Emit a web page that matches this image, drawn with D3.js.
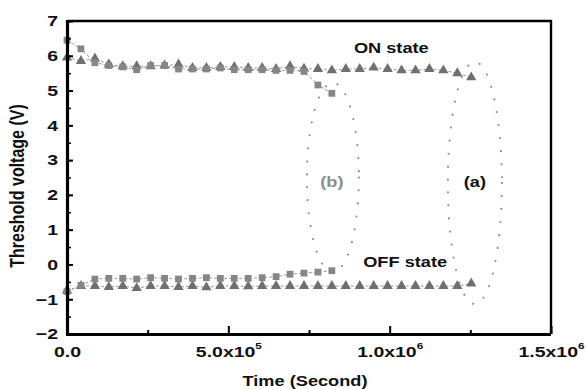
<!DOCTYPE html>
<html>
<head>
<meta charset="utf-8">
<script src="https://cdn.jsdelivr.net/npm/d3@7"></script>
<style>
  body { margin: 0; background: #fff; }
  svg { display: block; font-family: "Liberation Sans", Arial, sans-serif; }
</style>
</head>
<body>
<div id="chart"></div>
<script>
// time points, seconds (one reading every 12 h)
const timesA = [0, 43200, 86400, 129600, 172800, 216000, 259200, 302400, 345600, 388800,
  432000, 475200, 518400, 561600, 604800, 648000, 691200, 734400, 777600, 820800,
  864000, 907200, 950400, 993600, 1036800, 1080000, 1123200, 1166400, 1209600, 1252800]
const timesB = timesA.slice(0, 20)

// (a) triangles
const onA = [5.95, 5.85, 5.92, 5.75, 5.7, 5.7, 5.7, 5.72, 5.75, 5.65,
  5.65, 5.68, 5.68, 5.65, 5.65, 5.62, 5.7, 5.63, 5.62, 5.58,
  5.62, 5.62, 5.66, 5.62, 5.58, 5.58, 5.62, 5.58, 5.5, 5.38]
const offA = [-0.75, -0.62, -0.62, -0.65, -0.62, -0.68, -0.62, -0.62, -0.65, -0.62,
  -0.66, -0.62, -0.62, -0.63, -0.62, -0.62, -0.62, -0.62, -0.62, -0.62,
  -0.62, -0.62, -0.62, -0.62, -0.62, -0.62, -0.62, -0.62, -0.62, -0.55]

// (b) squares
const onB = [6.45, 6.2, 5.8, 5.72, 5.68, 5.6, 5.72, 5.72, 5.62, 5.62,
  5.62, 5.65, 5.6, 5.6, 5.6, 5.58, 5.58, 5.55, 5.16, 4.92]
const offB = [-0.78, -0.6, -0.42, -0.4, -0.4, -0.42, -0.38, -0.4, -0.42, -0.4,
  -0.38, -0.4, -0.4, -0.4, -0.38, -0.35, -0.28, -0.25, -0.22, -0.18]

// dotted loops: center (s, V), half width (s), half height (V), label position
const loops = [
  { name: "(b)", cx: 824000, cy: 2.5, rx: 80600, ry: 2.72, lx: 821000, ly: 2.23, color: "#8e8e8e" },
  { name: "(a)", cx: 1264000, cy: 2.34, rx: 83700, ry: 3.48, lx: 1264000, ly: 2.23, color: "#111" }
]

const yTicks = [-2, -1, 0, 1, 2, 3, 4, 5, 6, 7]
const xTicks = [0, 5e5, 1e6, 1.5e6]
const xTickLabels = [["0.0", ""], ["5.0x10", "5"], ["1.0x10", "6"], ["1.5x10", "6"]]

const width = 587
const height = 389
const marginTop = 21
const marginRight = 36
const marginBottom = 55
const marginLeft = 67
const stretch = 1.3     // the printed figure is wider than tall, text looks stretched

const svg = d3.select("#chart").append("svg")
  .attr("width", width)
  .attr("height", height)
  .attr("viewBox", [0, 0, width, height])

const x = d3.scaleLinear([0, 1.5e6], [marginLeft, width - marginRight])
const y = d3.scaleLinear([-2, 7], [height - marginBottom, marginTop])

// dotted loops
svg.append("g")
  .selectAll("ellipse")
  .data(loops)
  .join("ellipse")
  .attr("cx", d => x(d.cx))
  .attr("cy", d => y(d.cy))
  .attr("rx", d => x(d.cx + d.rx) - x(d.cx))
  .attr("ry", d => y(d.cy - d.ry) - y(d.cy))
  .attr("fill", "none")
  .attr("stroke", "#8f8f8f")
  .attr("stroke-width", 2.2)
  .attr("stroke-linecap", "round")
  .attr("stroke-dasharray", "0 13")

// series
const series = [
  { t: timesA, v: onA, shape: d3.symbolTriangle, fill: "#6f6f6f" },
  { t: timesA, v: offA, shape: d3.symbolTriangle, fill: "#6f6f6f" },
  { t: timesB, v: onB, shape: d3.symbolSquare, fill: "#868686" },
  { t: timesB, v: offB, shape: d3.symbolSquare, fill: "#868686" }
]

const line = d3.line().x(d => x(d[0])).y(d => y(d[1]))

series.forEach(s => {
  const pts = s.t.map((t, i) => [t, s.v[i]])
  svg.append("path")
    .attr("d", line(pts))
    .attr("fill", "none")
    .attr("stroke", "#9a9a9a")
    .attr("stroke-width", 1)
    .attr("stroke-dasharray", "3 2")
  svg.append("g")
    .selectAll("path")
    .data(pts)
    .join("path")
    .attr("transform", d => `translate(${x(d[0])},${y(d[1])})`)
    .attr("d", d3.symbol().type(s.shape).size(46)())
    .attr("fill", s.fill)
})

// frame
const x0 = x(0), x1 = x(1.5e6), y0 = y(-2), y1 = y(7)
svg.append("path")
  .attr("d", `M${x0},${y1}H${x1}V${y0}`)
  .attr("fill", "none")
  .attr("stroke", "#000")
  .attr("stroke-width", 2.4)

// y axis
svg.append("g")
  .attr("transform", `translate(${marginLeft},0)`)
  .call(d3.axisLeft(y).tickValues(d3.range(-2, 7.01, 0.5)).tickSize(-4).tickFormat(""))
  .call(g => g.selectAll(".tick line").attr("stroke-width", 1.5))
  .call(g => g.select(".domain").remove())
svg.append("g")
  .attr("transform", `translate(${marginLeft},0)`)
  .call(d3.axisLeft(y).tickValues(yTicks).tickSize(-6).tickPadding(9))
  .call(g => g.selectAll(".tick line").attr("stroke-width", 2))
  .call(g => g.select(".domain").attr("stroke-width", 3.2).attr("d", `M0.5,${y1 - 1}V${y0 + 1}`))
  .call(g => g.selectAll(".tick text")
    .attr("x", -9 / stretch)
    .attr("transform", `scale(${stretch},1)`)
    .attr("font-size", 15).attr("font-weight", "bold").attr("fill", "#111")
    .attr("font-family", "Liberation Sans, Arial, sans-serif"))

// x axis
svg.append("g")
  .attr("transform", `translate(0,${height - marginBottom})`)
  .call(d3.axisBottom(x).tickValues([2.5e5, 7.5e5, 1.25e6]).tickSize(-4).tickFormat(""))
  .call(g => g.selectAll(".tick line").attr("stroke-width", 2))
  .call(g => g.select(".domain").remove())
const xa = svg.append("g")
  .attr("transform", `translate(0,${height - marginBottom})`)
  .call(d3.axisBottom(x).tickValues(xTicks).tickSize(-8).tickFormat(""))
  .call(g => g.selectAll(".tick line").attr("stroke-width", 2))
  .call(g => g.select(".domain").attr("stroke-width", 3.2).attr("d", `M${x0 - 1},0.5H${x1}`))

xa.selectAll(".tick").each(function (d, i) {
  const t = d3.select(this).append("text")
    .attr("y", 23)
    .attr("transform", `scale(${stretch},1)`)
    .attr("fill", "#111")
    .attr("font-size", 15)
    .attr("font-weight", "bold")
    .attr("text-anchor", "middle")
    .attr("font-family", "Liberation Sans, Arial, sans-serif")
  t.append("tspan").text(xTickLabels[i][0])
  if (xTickLabels[i][1]) {
    t.append("tspan").attr("font-size", 9).attr("dy", -8).text(xTickLabels[i][1])
  }
})

// axis titles
svg.append("text")
  .attr("transform", `translate(24,${186}) rotate(-90) scale(1,${stretch})`)
  .attr("text-anchor", "middle")
  .attr("font-size", 16)
  .attr("font-weight", "bold")
  .attr("fill", "#111")
  .text("Threshold voltage (V)")

svg.append("text")
  .attr("transform", `translate(305,386) scale(${stretch},1)`)
  .attr("text-anchor", "middle")
  .attr("font-size", 14)
  .attr("font-weight", "bold")
  .attr("fill", "#111")
  .text("Time (Second)")

// annotations
svg.append("text")
  .attr("transform", `translate(${x(1.005e6)},${y(6.08)}) scale(${stretch},1)`)
  .attr("text-anchor", "middle")
  .attr("font-size", 14).attr("font-weight", "bold").attr("fill", "#111")
  .text("ON state")

svg.append("text")
  .attr("transform", `translate(${x(1.048e6)},${y(-0.08)}) scale(${stretch},1)`)
  .attr("text-anchor", "middle")
  .attr("font-size", 14).attr("font-weight", "bold").attr("fill", "#111")
  .text("OFF state")

svg.append("g")
  .selectAll("text")
  .data(loops)
  .join("text")
  .attr("transform", d => `translate(${x(d.lx)},${y(d.ly)}) scale(${stretch},1)`)
  .attr("text-anchor", "middle")
  .attr("font-size", 14)
  .attr("font-weight", "bold")
  .attr("fill", d => d.color)
  .text(d => d.name)
</script>
</body>
</html>
